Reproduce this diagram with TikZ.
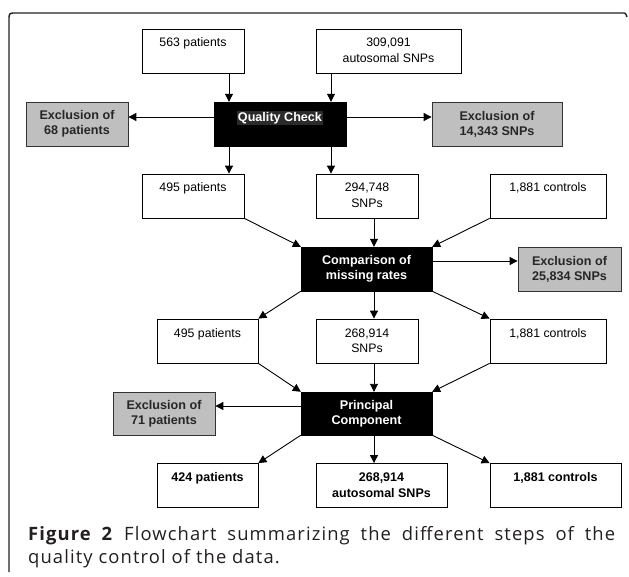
\documentclass[tikz,border=0pt]{standalone}
\usepackage{fontspec}
\setmainfont{Liberation Sans}
\newfontfamily\capfont[LetterSpace=6]{Open Sans}
\usetikzlibrary{arrows.meta}
\definecolor{capcol}{HTML}{231F20}
\definecolor{exgray}{HTML}{BFBFBF}
\definecolor{qcbg}{HTML}{2B2B2B}
\definecolor{framecol}{HTML}{222222}
\newcommand{\topbox}[2]{\parbox[t][44pt][t]{#1}{\centering\rule{0pt}{18pt}#2\par}}
\tikzset{
  wbox/.style={draw=black, line width=0.8pt, fill=white, inner sep=0pt, font=\fontsize{12.3}{15.5}\selectfont},
  bwbox/.style={wbox, font=\fontsize{12.5}{15.5}\selectfont\bfseries},
  exbox/.style={draw=black!80, line width=0.8pt, fill=exgray, inner sep=0pt, minimum height=44pt, align=center, font=\fontsize{12.6}{15}\selectfont\bfseries, text=black!85},
  blkbox/.style={draw=black, fill=black, text=white, inner sep=0pt, minimum height=44pt, align=center, font=\fontsize{12.6}{15}\selectfont\bfseries},
  arr/.style={-{Triangle[length=8pt,width=8pt]}, line width=0.9pt, draw=black},
  capstyle/.style={anchor=base west, inner sep=0pt, text=capcol, font=\capfont\fontsize{18.4}{23}\selectfont}
}
\begin{document}
\begin{tikzpicture}[x=1pt,y=-1pt]
\useasboundingbox (0,0) rectangle (629,577);
% frame
\draw[line width=1.4pt, draw=framecol, line join=round] (9,572) -- (9,20) .. controls (9,13) .. (16,13) -- (622,13) .. controls (625.5,13) .. (627,17);

% row 1
\node[wbox] (p563) at (193,51) {\topbox{102pt}{563 patients}};
\node[wbox] (s309) at (388.5,51) {\topbox{145pt}{309,091\\autosomal SNPs}};
% quality check
\node[draw=black, fill=black, inner sep=0pt] (qc) at (280,124) {\parbox[t][44pt][t]{132pt}{\centering\rule{0pt}{19.5pt}{\setlength{\fboxsep}{1pt}\colorbox{qcbg}{\color{white}\fontsize{12.6}{15}\selectfont\bfseries Quality Check}}\par}};
\node[exbox, minimum width=102pt] (ex68) at (77,124) {Exclusion of\\68 patients};
\node[exbox, minimum width=130pt] (ex14) at (497,124) {Exclusion of\\14,343 SNPs};
% row 2
\node[wbox] (p495a) at (193,196) {\topbox{102pt}{495 patients}};
\node[wbox] (s294) at (367,196) {\topbox{102pt}{294,748\\SNPs}};
\node[wbox] (c1881a) at (548,196) {\topbox{116pt}{1,881 controls}};
% comparison
\node[blkbox, minimum width=131pt] (cmp) at (366.5,269) {Comparison of\\missing rates};
\node[exbox, minimum width=103pt] (ex25) at (569.5,269) {Exclusion of\\25,834 SNPs};
% row 3
\node[wbox] (p495b) at (207.5,341) {\topbox{101pt}{495 patients}};
\node[wbox] (s268) at (367,341) {\topbox{102pt}{268,914\\SNPs}};
\node[wbox] (c1881b) at (548,341) {\topbox{116pt}{1,881 controls}};
% principal component
\node[blkbox, minimum width=131pt, minimum height=43pt] (pc) at (366.5,413.5) {Principal\\Component};
\node[exbox, minimum width=102pt, minimum height=43pt] (ex71) at (164,413.5) {Exclusion of\\71 patients};
% row 4
\node[bwbox] (p424) at (207.5,485.5) {\topbox{101pt}{424 patients}};
\node[bwbox] (s268b) at (381.5,485.5) {\topbox{131pt}{268,914\\autosomal SNPs}};
\node[bwbox] (c1881c) at (555.5,485.5) {\topbox{131pt}{1,881 controls}};

% helper coordinates
\coordinate (xa) at (229,0);
\coordinate (xb) at (331,0);
\coordinate (xc) at (374,0);
\coordinate (ya) at (0,117);
\coordinate (yb) at (0,261);
\coordinate (yc) at (0,406);

% arrows
\draw[arr] (p563.south -| xa) -- (qc.north -| xa);
\draw[arr] (s309.south -| xb) -- (qc.north -| xb);
\draw[arr] (qc.west |- ya) -- (ex68.east |- ya);
\draw[arr] (qc.east |- ya) -- (ex14.west |- ya);
\draw[arr] (qc.south -| xa) -- (p495a.north -| xa);
\draw[arr] (qc.south -| xb) -- (s294.north -| xb);

\draw[arr] (p495a.south east) -- (cmp.north west);
\draw[arr] (s294.south -| xc) -- (cmp.north -| xc);
\draw[arr] (c1881a.south west) -- (cmp.north east);
\draw[arr] (cmp.east |- yb) -- (ex25.west |- yb);
\draw[arr] (cmp.south west) -- (p495b.north east);
\draw[arr] (cmp.south -| xc) -- (s268.north -| xc);
\draw[arr] (cmp.south east) -- (c1881b.north west);

\draw[arr] (p495b.south east) -- (pc.north west);
\draw[arr] (s268.south -| xc) -- (pc.north -| xc);
\draw[arr] (c1881b.south west) -- (pc.north east);
\draw[arr] (pc.west |- yc) -- (ex71.east |- yc);
\draw[arr] (pc.south west) -- (p424.north east);
\draw[arr] (pc.south -| xc) -- (s268b.north -| xc);
\draw[arr] (pc.south east) -- (c1881c.north west);

% caption
\node[capstyle] (cap1) at (28,540) {\makebox[587pt][s]{\textbf{Figure 2} Flowchart summarizing the different steps of the}};
\node[capstyle] (cap2) at (28,563) {quality control of the data.};
\end{tikzpicture}
\end{document}
